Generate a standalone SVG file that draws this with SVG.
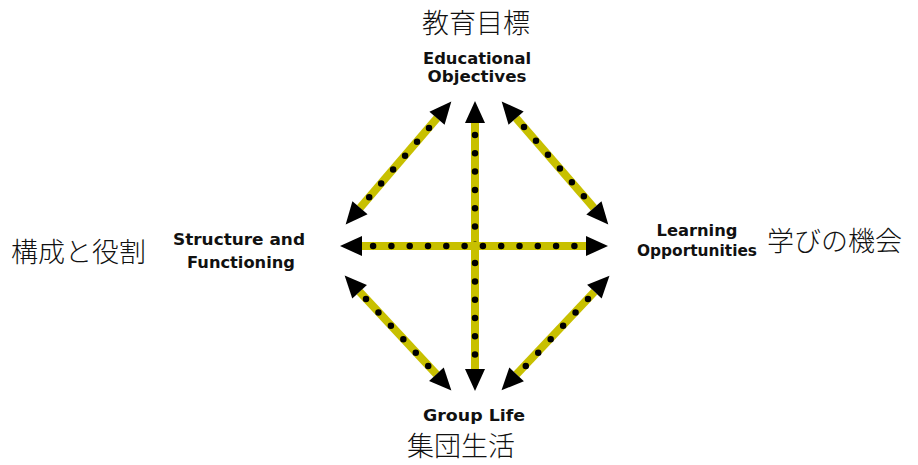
<svg xmlns="http://www.w3.org/2000/svg" width="918" height="465" viewBox="0 0 918 465">
<defs>
<marker id="ah" markerUnits="userSpaceOnUse" viewBox="0 -10 22 20" refX="0" refY="0" markerWidth="22" markerHeight="20" orient="auto-start-reverse" overflow="visible">
<path d="M0,-10 L22,0 L0,10 Z" fill="#000"/>
</marker>
</defs>
<style>
.bar{stroke:#c8c000;stroke-width:8;fill:none;marker-start:url(#ah);marker-end:url(#ah)}
.dots{stroke:#000;stroke-width:6.5;stroke-linecap:round;stroke-dasharray:0 18.3;fill:none}
.en{font-family:"DejaVu Sans","Liberation Sans",sans-serif;font-weight:bold;font-size:16px;fill:#111;text-anchor:middle}
.jp{font-family:"Noto Sans CJK JP","Noto Sans CJK SC",sans-serif;font-weight:300;font-size:27px;fill:#111}
</style>
<rect width="918" height="465" fill="#fff"/>
<g id="connectors">
<line class="bar" x1="475" y1="123" x2="475" y2="369"/>
<line class="dots" x1="475" y1="135" x2="475" y2="362"/>
<line class="bar" x1="362" y1="246" x2="586" y2="246"/>
<line class="dots" x1="373.1" y1="246" x2="580" y2="246"/>
<line class="bar" x1="437" y1="118.2" x2="360" y2="207.8"/>
<line class="dots" x1="429" y1="128" x2="366" y2="201"/>
<line class="bar" x1="516.1" y1="118.1" x2="593.9" y2="207.9"/>
<line class="dots" x1="524" y1="127" x2="588" y2="201"/>
<line class="bar" x1="359.6" y1="291.7" x2="436.4" y2="374.3"/>
<line class="dots" x1="366" y1="299" x2="430" y2="368"/>
<line class="bar" x1="594.4" y1="291.7" x2="516.6" y2="374.3"/>
<line class="dots" x1="588" y1="299" x2="524" y2="368"/>
</g>
<g id="node-objectives">
<text class="jp" x="422" y="33">教育目標</text>
<text class="en" x="477" y="64" textLength="108" lengthAdjust="spacingAndGlyphs">Educational</text>
<text class="en" x="477" y="82" textLength="99" lengthAdjust="spacingAndGlyphs">Objectives</text>
</g>
<g id="node-structure">
<text class="jp" x="11" y="262">構成と役割</text>
<text class="en" x="239" y="245" textLength="132" lengthAdjust="spacingAndGlyphs">Structure and</text>
<text class="en" x="241" y="268" textLength="108" lengthAdjust="spacingAndGlyphs">Functioning</text>
</g>
<g id="node-learning">
<text class="en" x="697" y="236" font-size="15" textLength="81" lengthAdjust="spacingAndGlyphs">Learning</text>
<text class="en" x="697" y="256" font-size="15" textLength="120" lengthAdjust="spacingAndGlyphs">Opportunities</text>
<text class="jp" x="767" y="251">学びの機会</text>
</g>
<g id="node-group">
<text class="en" x="474" y="421" textLength="102" lengthAdjust="spacingAndGlyphs">Group Life</text>
<text class="jp" x="407" y="456">集団生活</text>
</g>
</svg>
